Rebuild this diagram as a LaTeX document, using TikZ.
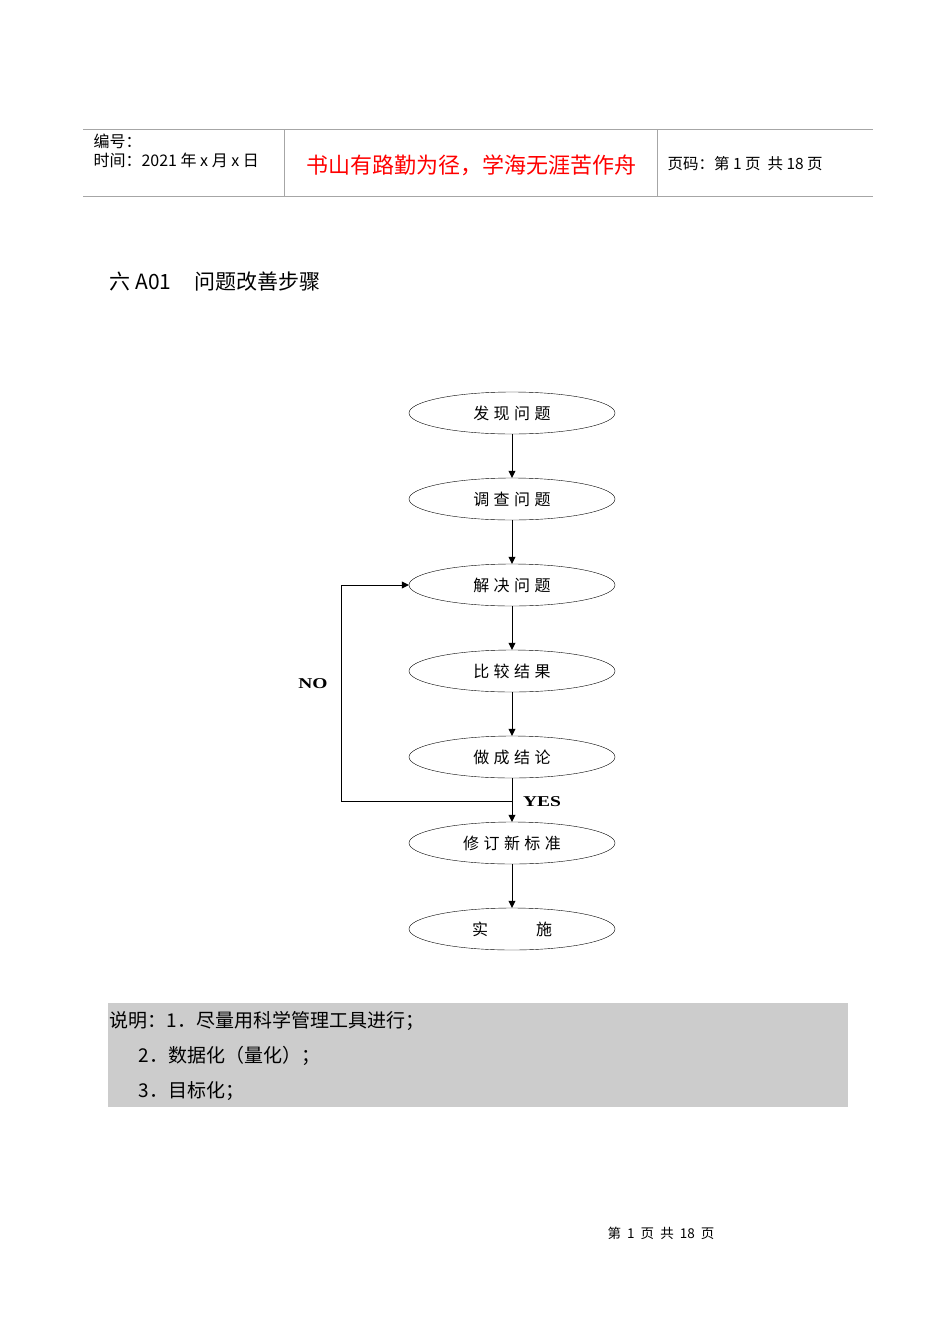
\documentclass[tikz,border=0pt]{standalone}
\usepackage{fontspec}
\setmainfont{Noto Sans CJK SC}
\newfontfamily\flowfont[LetterSpace=28]{Noto Sans CJK SC}
\newfontfamily\enserif{Liberation Serif}
\usetikzlibrary{shapes.geometric,arrows.meta}

\begin{document}
\begin{tikzpicture}[x=1pt, y=-1pt,
  stepnode/.style={draw, ellipse, minimum width=206pt, minimum height=42pt, inner sep=0pt, font=\flowfont\fontsize{16}{16}\selectfont},
  flowlabel/.style={font=\enserif\bfseries\fontsize{15}{15}\selectfont},
  flow/.style={-{Triangle[length=7pt,width=7pt]}, thin}]

\useasboundingbox (0,0) rectangle (950,1344);

% header
\draw[gray!70] (83,129) -- (873,129);
\draw[gray!70] (83,196) -- (873,196);
\draw[gray!70] (284,129) -- (284,196);
\draw[gray!70] (657,129) -- (657,196);

\node[anchor=west, font=\fontsize{16}{16}\selectfont] (num) at (90,141) {编号：};
\node[anchor=west, font=\fontsize{16}{16}\selectfont] (date) at (90,160) {时间：2021 年 x 月 x 日};
\node[red, font=\fontsize{22}{22}\selectfont] (motto) at (471,165) {书山有路勤为径，学海无涯苦作舟};
\node[anchor=west, font=\fontsize{15.5}{15.5}\selectfont] (page) at (664,164) {页码：第 1 页\ \ 共 18 页};

% title
\node[anchor=west, font=\fontsize{21}{21}\selectfont] (title) at (106,282) {六 A01\hspace{1.1em}问题改善步骤};

% flow
\def\x{512}
\node[stepnode] (find) at (\x,413) {发现问题};
\node[stepnode] (check) at (\x,499) {调查问题};
\node[stepnode] (solve) at (\x,585) {解决问题};
\node[stepnode] (compare) at (\x,671) {比较结果};
\node[stepnode] (conclude) at (\x,757) {做成结论};
\node[stepnode] (revise) at (\x,843) {修订新标准};
\node[stepnode] (apply) at (\x,929) {实\hspace{3em}施};

\draw[flow] (find) -- (check);
\draw[flow] (check) -- (solve);
\draw[flow] (solve) -- (compare);
\draw[flow] (compare) -- (conclude);
\draw[flow] (conclude) -- (revise);
\draw[flow] (revise) -- (apply);

\coordinate (split) at (\x,801);
\coordinate (corner) at (341,801);
\draw[flow] (split) -- (corner) |- (solve.west);

\node[flowlabel] (no) at (313,684) {\scalebox{1.3}[1]{NO}};
\node[flowlabel] (yes) at (542,802) {\scalebox{1.3}[1]{YES}};

% notes
\fill[gray!40] (108,1003) rectangle (848,1107);
\node[anchor=west, font=\fontsize{19}{19}\selectfont] (note1) at (106,1021) {说明：1．尽量用科学管理工具进行；};
\node[anchor=west, font=\fontsize{19}{19}\selectfont] (note2) at (135,1056) {2．数据化（量化）；};
\node[anchor=west, font=\fontsize{19}{19}\selectfont] (note3) at (135,1091) {3．目标化；};

% footer
\node[font=\fontsize{13.5}{13.5}\selectfont] (foot) at (661,1233) {第\ \ 1\ \ 页\ \ 共\ \ 18\ \ 页};

\end{tikzpicture}
\end{document}
